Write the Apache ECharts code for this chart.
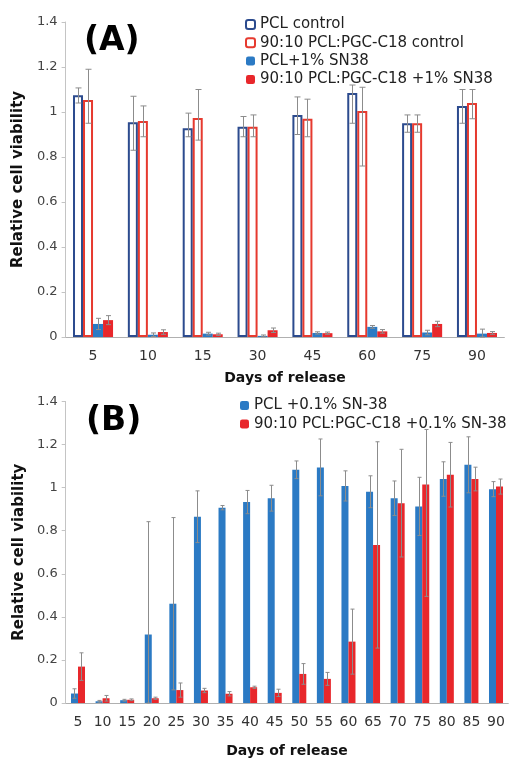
<!DOCTYPE html>
<html>
<head>
<meta charset="utf-8">
<script src="https://cdn.jsdelivr.net/npm/echarts@6/dist/echarts.min.js"></script>
<style>
html,body{margin:0;padding:0;background:#fff;}
#chart{width:509px;height:759px;}
</style>
</head>
<body>
<div id="chart"></div>
<script>
// ---------- Panel A data ----------
const catsA = ['5','10','15','30','45','60','75','90'];
const namesA = ['PCL control','90:10 PCL:PGC-C18 control','PCL+1% SN38','90:10 PCL:PGC-C18 +1% SN38'];
const pclCtrl      = [1.075, 0.955, 0.928, 0.935, 0.987, 1.085, 0.950, 1.027];
const pclCtrlUp    = [0.032, 0.115, 0.067, 0.045, 0.080, 0.035, 0.037, 0.073];
const pclCtrlDown  = [0.035, 0.125, 0.038, 0.045, 0.087, 0.135, 0.040, 0.077];
const pgcCtrl      = [1.053, 0.960, 0.973, 0.935, 0.970, 1.004, 0.950, 1.040];
const pgcCtrlUp    = [0.137, 0.067, 0.127, 0.052, 0.087, 0.106, 0.037, 0.060];
const pgcCtrlDown  = [0.103, 0.070, 0.098, 0.045, 0.080, 0.244, 0.040, 0.070];
const pclSn1       = [0.058, 0.010, 0.015, 0.005, 0.018, 0.045, 0.020, 0.015];
const pclSn1Err    = [0.025, 0.008, 0.006, 0.004, 0.005, 0.006, 0.010, 0.020];
const pgcSn1       = [0.075, 0.022, 0.012, 0.030, 0.017, 0.025, 0.058, 0.018];
const pgcSn1Err    = [0.020, 0.010, 0.005, 0.010, 0.005, 0.008, 0.012, 0.006];

// ---------- Panel B data ----------
const catsB = ['5','10','15','20','25','30','35','40','45','50','55','60','65','70','75','80','85','90'];
const namesB = ['PCL +0.1% SN-38','90:10 PCL:PGC-C18 +0.1% SN-38'];
const pclB      = [0.044, 0.008, 0.013, 0.318, 0.461, 0.865, 0.907, 0.933, 0.951, 1.083, 1.094, 1.008, 0.981, 0.951, 0.913, 1.040, 1.106, 0.993];
const pclBErr   = [0.022, 0.004, 0.004, 0.524, 0.400, 0.120, 0.010, 0.054, 0.060, 0.041, 0.132, 0.070, 0.074, 0.080, 0.135, 0.080, 0.130, 0.035];
const pgcB      = [0.169, 0.022, 0.015, 0.022, 0.060, 0.058, 0.043, 0.073, 0.047, 0.135, 0.112, 0.285, 0.734, 0.928, 1.015, 1.060, 1.040, 1.005];
const pgcBUp    = [0.064, 0.013, 0.004, 0.005, 0.033, 0.010, 0.010, 0.005, 0.017, 0.048, 0.030, 0.151, 0.479, 0.250, 0.255, 0.150, 0.055, 0.035];
const pgcBDown  = [0.064, 0.013, 0.004, 0.005, 0.033, 0.010, 0.010, 0.005, 0.017, 0.048, 0.030, 0.151, 0.479, 0.250, 0.520, 0.150, 0.055, 0.035];

const yTicks = [0, 0.2, 0.4, 0.6, 0.8, 1, 1.2, 1.4];

const BLUE = '#2b7ac4', RED = '#e8272b', BLUE_DARK = '#2c4b8e', RED_OUT = '#e63a2f', ERR = '#8c8c8c';
const FONT = 'DejaVu Sans';

const gapA = 0.27, gapB = 0.43;

function errData(vals, up, down) {
  return vals.map((v, i) => [i, Math.max(0, v - down[i]), v + up[i]]);
}
function errSeries(xi, yi, vals, up, down, idx, n, gap, capW) {
  return {
    type: 'custom', xAxisIndex: xi, yAxisIndex: yi, z: 10, silent: true,
    data: errData(vals, up, down),
    renderItem: function (params, api) {
      const band = api.size([1, 0])[0];
      const total = band * (1 - gap);
      const bw = total / n;
      const off = -total / 2 + bw * (idx + 0.5);
      const pLo = api.coord([api.value(0), api.value(1)]);
      const pHi = api.coord([api.value(0), api.value(2)]);
      const x = Math.round(pLo[0] + off) + 0.5;
      const style = { stroke: ERR, lineWidth: 1, fill: null };
      return {
        type: 'group',
        children: [
          { type: 'line', shape: { x1: x, y1: pLo[1], x2: x, y2: pHi[1] }, style: style },
          { type: 'line', shape: { x1: x - capW / 2, y1: pHi[1], x2: x + capW / 2, y2: pHi[1] }, style: style },
          { type: 'line', shape: { x1: x - capW / 2, y1: pLo[1], x2: x + capW / 2, y2: pLo[1] }, style: style }
        ]
      };
    }
  };
}

function yAxis(gi) {
  return {
    gridIndex: gi, type: 'value', min: 0, max: 1.4, interval: 0.2,
    name: 'Relative cell viability', nameLocation: 'middle', nameGap: 39,
    nameTextStyle: { fontFamily: FONT, fontWeight: 'bold', fontSize: 15, color: '#111' },
    axisLine: { show: true, lineStyle: { color: '#c4c4c4', width: 1 } },
    axisTick: { show: true, length: 4, lineStyle: { color: '#c4c4c4' } },
    axisLabel: { fontFamily: FONT, fontSize: 13, color: '#444', margin: 8 },
    splitLine: { show: false }
  };
}
function xAxis(gi, cats) {
  return {
    gridIndex: gi, type: 'category', data: cats,
    name: 'Days of release', nameLocation: 'middle', nameGap: gi === 0 ? 34 : 41,
    nameTextStyle: { fontFamily: FONT, fontWeight: 'bold', fontSize: 14, color: '#111' },
    axisLine: { show: true, lineStyle: { color: '#b0b0b0', width: 1 } },
    axisTick: { show: false },
    axisLabel: { fontFamily: FONT, fontSize: 14, color: '#333', margin: 12, interval: 0 }
  };
}

const option = {
  animation: false,
  backgroundColor: '#ffffff',
  title: [
    { text: '(A)', left: 79, top: 20, textStyle: { fontFamily: FONT, fontWeight: 'bold', fontSize: 33, color: '#000' } },
    { text: '(B)', left: 81, top: 400, textStyle: { fontFamily: FONT, fontWeight: 'bold', fontSize: 33, color: '#000' } }
  ],
  legend: [
    {
      data: namesA, orient: 'vertical', left: 240, top: 12, itemWidth: 9, itemHeight: 9, itemGap: 3.3,
      textStyle: { fontFamily: FONT, fontSize: 15, color: '#222', lineHeight: 15 }, selectedMode: false
    },
    {
      data: namesB, orient: 'vertical', left: 235, top: 393, itemWidth: 9, itemHeight: 9, itemGap: 3.5,
      textStyle: { fontFamily: FONT, fontSize: 15, color: '#222', lineHeight: 15 }, selectedMode: false
    }
  ],
  grid: [
    { left: 65.6, right: 4.6, top: 22, height: 315 },
    { left: 65.7, right: 0.7, top: 401.5, height: 310 }
  ],
  xAxis: [xAxis(0, catsA), xAxis(1, catsB)],
  yAxis: [yAxis(0), yAxis(1)],
  series: [
    { name: namesA[0], type: 'bar', xAxisIndex: 0, yAxisIndex: 0, data: pclCtrl, barGap: '0%', barCategoryGap: (gapA * 100) + '%',
      itemStyle: { color: '#ffffff', borderColor: BLUE_DARK, borderWidth: 2 } },
    { name: namesA[1], type: 'bar', xAxisIndex: 0, yAxisIndex: 0, data: pgcCtrl, barGap: '0%', barCategoryGap: (gapA * 100) + '%',
      itemStyle: { color: '#ffffff', borderColor: RED_OUT, borderWidth: 2 } },
    { name: namesA[2], type: 'bar', xAxisIndex: 0, yAxisIndex: 0, data: pclSn1, barGap: '0%', barCategoryGap: (gapA * 100) + '%',
      itemStyle: { color: BLUE } },
    { name: namesA[3], type: 'bar', xAxisIndex: 0, yAxisIndex: 0, data: pgcSn1, barGap: '0%', barCategoryGap: (gapA * 100) + '%',
      itemStyle: { color: RED } },
    errSeries(0, 0, pclCtrl, pclCtrlUp, pclCtrlDown, 0, 4, gapA, 6),
    errSeries(0, 0, pgcCtrl, pgcCtrlUp, pgcCtrlDown, 1, 4, gapA, 6),
    errSeries(0, 0, pclSn1, pclSn1Err, pclSn1Err, 2, 4, gapA, 5),
    errSeries(0, 0, pgcSn1, pgcSn1Err, pgcSn1Err, 3, 4, gapA, 5),

    { name: namesB[0], type: 'bar', xAxisIndex: 1, yAxisIndex: 1, data: pclB, barGap: '0%', barCategoryGap: (gapB * 100) + '%',
      itemStyle: { color: BLUE } },
    { name: namesB[1], type: 'bar', xAxisIndex: 1, yAxisIndex: 1, data: pgcB, barGap: '0%', barCategoryGap: (gapB * 100) + '%',
      itemStyle: { color: RED } },
    errSeries(1, 1, pclB, pclBErr, pclBErr, 0, 2, gapB, 4),
    errSeries(1, 1, pgcB, pgcBUp, pgcBDown, 1, 2, gapB, 4)
  ]
};

const chart = echarts.init(document.getElementById('chart'), null, { renderer: 'canvas' });
chart.setOption(option);
</script>
</body>
</html>
